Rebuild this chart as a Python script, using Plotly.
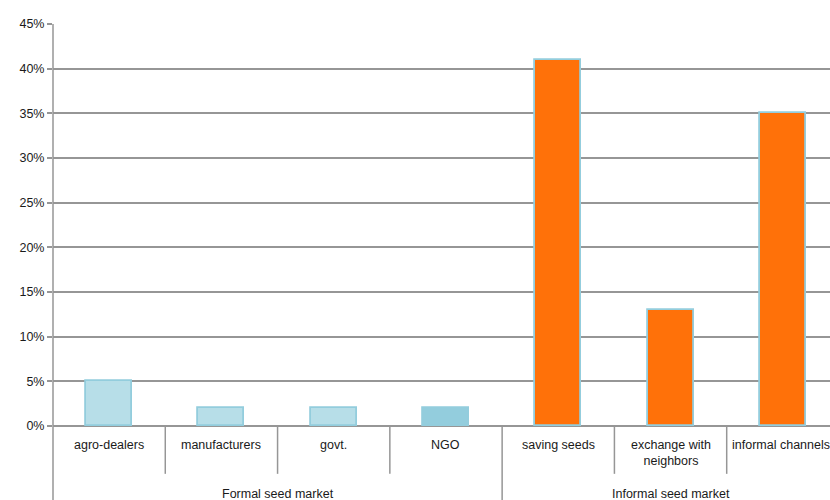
import plotly.graph_objects as go

categories = ["agro-dealers", "manufacturers", "govt.", "NGO",
              "saving seeds", "exchange with<br>neighbors", "informal channels"]
values = [5, 2, 2, 2, 41, 13, 35]
groups = ["Formal seed market", "Informal seed market"]
group_sizes = [4, 3]
bar_colors = ["#b7dee8", "#b7dee8", "#b7dee8", "#93cddd",
              "#ff7109", "#ff7109", "#ff7109"]
y_ticks = [0, 5, 10, 15, 20, 25, 30, 35, 40, 45]

xs = list(range(len(categories)))
fig = go.Figure()
fig.add_trace(go.Bar(
    x=xs, y=values, width=0.41,
    marker=dict(color=bar_colors, line=dict(color="#93cddd", width=1.8)),
    hoverinfo="skip",
))

FONT = "Liberation Sans, Arial, sans-serif"
FS = 12.5
TXT = "#1a1a1a"
GRID = "#969696"

shapes = []
annotations = []
# y axis line extending down through label area
shapes.append(dict(type="line", xref="paper", yref="paper", x0=0, x1=0,
                   y0=-0.2, y1=1, line=dict(color=GRID, width=1.5)))
# category dividers
boundary = group_sizes[0]
for i in range(1, len(categories)):
    y0 = -0.2 if i == boundary else -0.119
    shapes.append(dict(type="line", xref="x", yref="paper", x0=i - 0.5, x1=i - 0.5,
                       y0=y0, y1=0, line=dict(color=GRID, width=1.5)))
for i, c in enumerate(categories):
    annotations.append(dict(x=i, y=-0.026, xref="x", yref="paper", text=c,
                            showarrow=False, yanchor="top", align="center",
                            xshift=-2 if i == len(categories) - 1 else 0,
                            font=dict(family=FONT, size=FS, color=TXT)))
start = 0
for g, n in zip(groups, group_sizes):
    center = start + (n - 1) / 2
    annotations.append(dict(x=center, y=-0.168, xref="x", yref="paper", text=g,
                            showarrow=False, yanchor="middle",
                            font=dict(family=FONT, size=FS, color=TXT)))
    start += n

fig.update_layout(
    width=830, height=500,
    margin=dict(l=53, r=0, t=24, b=74),
    paper_bgcolor="white", plot_bgcolor="white",
    showlegend=False, bargap=0,
    shapes=shapes, annotations=annotations,
    font=dict(family=FONT, size=FS, color=TXT),
    xaxis=dict(range=[-0.5, 6.42], showticklabels=False, showgrid=False,
               zeroline=False, showline=False, ticks="", fixedrange=True),
    yaxis=dict(range=[0, 45], tickvals=y_ticks,
               ticktext=[f"{v}%" for v in y_ticks],
               showgrid=True, gridcolor=GRID, gridwidth=1.5,
               ticks="outside", ticklen=5, tickcolor=GRID, tickwidth=1.5,
               showline=False, zeroline=True, zerolinecolor=GRID, zerolinewidth=1.5,
               tickfont=dict(family=FONT, size=FS, color=TXT), fixedrange=True),
)

fig.write_html("out.html", config={"displayModeBar": False},
               post_script="document.body.style.margin='0';document.body.style.overflow='hidden';")
